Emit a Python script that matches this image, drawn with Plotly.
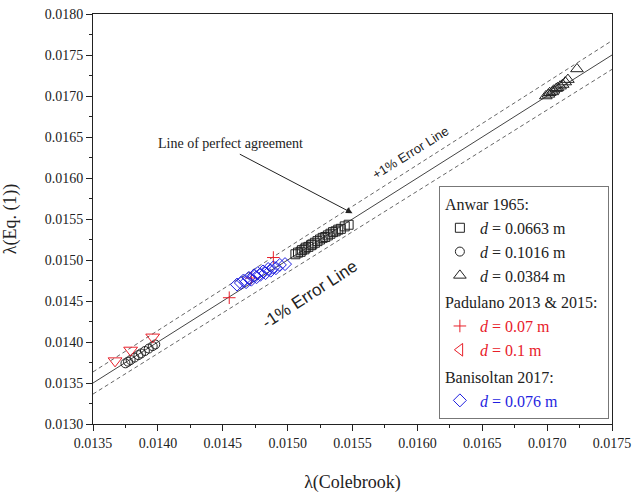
import plotly.graph_objects as go

# ---- data ----
sq_x = [0.01506, 0.01508, 0.01510, 0.01511, 0.01513, 0.01514, 0.01516, 0.01518, 0.01519, 0.01521, 0.01523,
        0.01525, 0.01527, 0.01529, 0.01531, 0.01533, 0.01535, 0.01537, 0.01539, 0.01541, 0.01544, 0.01547]
sq_y = [0.01507, 0.01509, 0.01510, 0.01512, 0.01513, 0.01515, 0.01516, 0.01518, 0.01519, 0.01521, 0.01523,
        0.01525, 0.01527, 0.01528, 0.01530, 0.01532, 0.01534, 0.01535, 0.01537, 0.01538, 0.01541, 0.01543]

ci_x = [0.01375, 0.01377, 0.01379, 0.01382, 0.01385, 0.01387, 0.01390, 0.01393, 0.01396, 0.01398]
ci_y = [0.01374, 0.01376, 0.01378, 0.01381, 0.01384, 0.01386, 0.01389, 0.01392, 0.01395, 0.01397]

tr_x = [0.01699, 0.01701, 0.01702, 0.01704, 0.01705, 0.01707, 0.01708, 0.01710, 0.01712, 0.01714, 0.01716, 0.01723]
tr_y = [0.01700, 0.01702, 0.01704, 0.01705, 0.01707, 0.01709, 0.01710, 0.01712, 0.01714, 0.01717, 0.01720, 0.01733]

pl_x = [0.01455, 0.01472, 0.01489]
pl_y = [0.01454, 0.01478, 0.01503]

tl_x = [0.01367, 0.01379, 0.01396]
tl_y = [0.01377, 0.01390, 0.01406]

di_x = [0.01461, 0.01464, 0.01466, 0.01468, 0.01470, 0.01472, 0.01474, 0.01476, 0.01477,
        0.01479, 0.01481, 0.01483, 0.01485, 0.01487, 0.01489, 0.01491, 0.01494, 0.01498]
di_y = [0.01470, 0.01472, 0.01475, 0.01473, 0.01478, 0.01476, 0.01481, 0.01479, 0.01484,
        0.01482, 0.01486, 0.01484, 0.01489, 0.01487, 0.01491, 0.01490, 0.01494, 0.01495]

line_x = [0.0135, 0.0175]
err = 0.01

x_ticks = [0.0135, 0.0140, 0.0145, 0.0150, 0.0155, 0.0160, 0.0165, 0.0170, 0.0175]
y_ticks = [0.0130, 0.0135, 0.0140, 0.0145, 0.0150, 0.0155, 0.0160, 0.0165, 0.0170, 0.0175, 0.0180]

SERIF = "Liberation Serif"
SANS = "Liberation Sans"
RED = "#e8202a"
BLUE = "#1f1fe0"
INK = "#222"

fig = go.Figure()

# reference lines
fig.add_trace(go.Scatter(x=line_x, y=line_x, mode="lines", line=dict(color="#444", width=1),
                         showlegend=False, hoverinfo="skip"))
fig.add_trace(go.Scatter(x=line_x, y=[v * (1 + err) for v in line_x], mode="lines",
                         line=dict(color="#666", width=1, dash="4px,3px"), showlegend=False, hoverinfo="skip"))
fig.add_trace(go.Scatter(x=line_x, y=[v * (1 - err) for v in line_x], mode="lines",
                         line=dict(color="#666", width=1, dash="4px,3px"), showlegend=False, hoverinfo="skip"))

def grp(name, title):
    return dict(legendgroup=name, legendgrouptitle=dict(text=title, font=dict(family=SERIF, size=16, color=INK)))

fig.add_trace(go.Scatter(x=sq_x, y=sq_y, mode="markers", name="<i>d</i> = 0.0663 m",
                         marker=dict(symbol="square-open", size=9, color=INK, line=dict(width=1)),
                         **grp("a", "Anwar 1965:")))
fig.add_trace(go.Scatter(x=ci_x, y=ci_y, mode="markers", name="<i>d</i> = 0.1016 m",
                         marker=dict(symbol="circle-open", size=9, color=INK, line=dict(width=1)),
                         **grp("a", "Anwar 1965:")))
fig.add_trace(go.Scatter(x=tr_x, y=tr_y, mode="markers", name="<i>d</i> = 0.0384 m",
                         marker=dict(symbol="triangle-up-open", size=11, color=INK, line=dict(width=1)),
                         **grp("a", "Anwar 1965:")))
fig.add_trace(go.Scatter(x=pl_x, y=pl_y, mode="markers",
                         name=f"<span style='color:{RED}'><i>d</i> = 0.07 m</span>",
                         marker=dict(symbol="cross-thin-open", size=9, color=RED, line=dict(width=1, color=RED)),
                         **grp("p", "Padulano 2013 &amp; 2015:")))
fig.add_trace(go.Scatter(x=tl_x, y=tl_y, mode="markers",
                         name=f"<span style='color:{RED}'><i>d</i> = 0.1 m</span>",
                         marker=dict(symbol="triangle-down-open", size=12, color=RED, line=dict(width=1)),
                         showlegend=False, legendgroup="p"))
fig.add_trace(go.Scatter(x=[None], y=[None], mode="markers",
                         name=f"<span style='color:{RED}'><i>d</i> = 0.1 m</span>",
                         marker=dict(symbol="triangle-left-open", size=11, color=RED, line=dict(width=1)),
                         legendgroup="p"))
fig.add_trace(go.Scatter(x=di_x, y=di_y, mode="markers",
                         name=f"<span style='color:{BLUE}'><i>d</i> = 0.076 m</span>",
                         marker=dict(symbol="diamond-open", size=10, color=BLUE, line=dict(width=1)),
                         **grp("b", "Banisoltan 2017:")))

axis_common = dict(showline=True, linecolor=INK, linewidth=1, mirror=True, ticks="outside",
                   ticklen=6, tickwidth=1, tickcolor=INK, showgrid=False, zeroline=False,
                   tickformat=".4f", tickfont=dict(family=SERIF, size=14, color=INK),
                   automargin=False,
                   minor=dict(ticks="outside", ticklen=3, tickcolor=INK, showgrid=False, dtick=0.00025))

fig.update_xaxes(range=[0.0135, 0.0175], tickvals=x_ticks,
                 title=dict(text="λ(Colebrook)", font=dict(family=SERIF, size=18, color=INK), standoff=25),
                 **axis_common)
fig.update_yaxes(range=[0.0130, 0.0180], tickvals=y_ticks,
                 title=dict(text="λ(Eq. (1))", font=dict(family=SERIF, size=18, color=INK), standoff=24),
                 **axis_common)

fig.add_annotation(x=0.01550, y=0.01557, ax=0.01462, ay=0.01630, xref="x", yref="y", axref="x", ayref="y",
                   text="", showarrow=True, arrowhead=2, arrowsize=1.3, arrowwidth=1, arrowcolor=INK)
fig.add_annotation(x=0.01456, y=0.01642, xref="x", yref="y", text="Line of perfect agreement", showarrow=False,
                   font=dict(family=SERIF, size=14, color=INK))
fig.add_annotation(x=0.01595, y=0.01631, xref="x", yref="y", text="+1% Error Line", showarrow=False,
                   textangle=-32, font=dict(family=SANS, size=13, color=INK))
fig.add_annotation(x=0.01517, y=0.01458, xref="x", yref="y", text="-1% Error Line", showarrow=False,
                   textangle=-33, font=dict(family=SANS, size=17, color=INK))

fig.update_layout(
    width=634, height=497,
    margin=dict(l=93, r=22, t=14, b=73),
    paper_bgcolor="white", plot_bgcolor="white",
    font=dict(family=SERIF, color=INK),
    legend=dict(x=0.994, y=0.012, xanchor="right", yanchor="bottom", bgcolor="white",
                bordercolor="#777", borderwidth=1, tracegroupgap=3,
                font=dict(family=SERIF, size=16, color=INK), itemwidth=30),
)

# remove the browser's default 8 px page margin so the figure sits at the window origin
fig.write_html("out.html", config={"displayModeBar": False},
               post_script="document.body.style.margin='0';")
